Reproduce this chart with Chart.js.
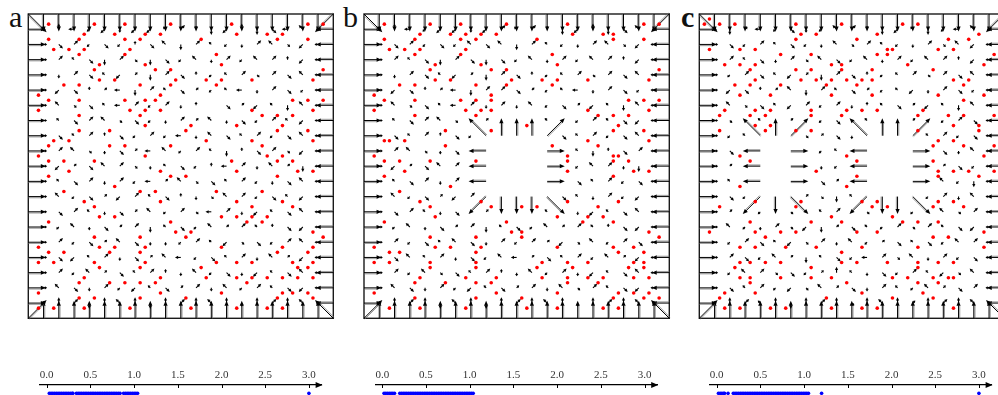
<!DOCTYPE html>
<html><head><meta charset="utf-8">
<script src="https://cdn.jsdelivr.net/npm/chart.js@4/dist/chart.umd.min.js"></script>
<style>
html,body{margin:0;padding:0;background:#fff;width:998px;height:395px;overflow:hidden;position:relative}
canvas{position:absolute;display:block}
.lbl{position:absolute;font-family:"Liberation Serif","Times New Roman",serif;font-size:30px;line-height:30px;color:#111}
</style></head><body>
<div class="lbl" style="left:9px;top:2px">a</div>
<div class="lbl" style="left:343px;top:2px">b</div>
<div class="lbl" style="left:681px;top:2px;font-weight:bold">c</div>
<canvas id="pa" width="326" height="325" style="left:18px;top:4px"></canvas>
<canvas id="pb" width="326" height="325" style="left:354px;top:4px"></canvas>
<canvas id="pc" width="326" height="325" style="left:689px;top:4px"></canvas>
<canvas id="na" width="310" height="40" style="left:30px;top:355px"></canvas>
<canvas id="nb" width="310" height="40" style="left:365px;top:355px"></canvas>
<canvas id="nc" width="298" height="40" style="left:700px;top:355px"></canvas>
<script>
// ---------- DATA (fine lattice units: 0..60, arrow nodes every 3 units) ----------
const dotsA = [
[2,[4,13,19,28,40,55,58]],[4,[11,17,23,26,41,47,50]],[5,[4,10,19,22,34,49,55]],[7,[5,8,11,20]],
[8,[10,19,37]],[10,[14,23,38]],[11,[13,25,28,58]],[13,[14,17,29,35,38,44,56]],[14,[7,10,22,28,37]],
[16,[2,26]],[17,[4,10,19,23,25,52,55,58]],[19,[2,20,23,26,44,56]],[20,[10,22,46,49,52]],
[22,[23,32,41,50]],[23,[10,16,31,49,55]],[25,[5,8,35,44,56]],[26,[4,16,19,28,46]],[28,[2,23,47,50]],
[29,[4,7,13,40,49,52]],[31,[8,26,41,53,56]],[32,[4,28,31,49]],[34,[17]],[35,[7,22,25,37,46]],
[37,[11,26,41,50]],[38,[13,44,52]],[40,[14,17,38,41,44,47]],[41,[4,28,43,46]],[43,[29,32,56]],
[44,[13,22,31,58]],[46,[2,14,17,23,38,50,56]],[47,[4,7,16,22,49,55]],[49,[2,5,13,23,37,41,44,52,56]],
[50,[14,22,34,53,55]],[52,[11,26,35,41,44,47,50,53,56]],[53,[10,16,19,22,25,43]],[55,[2,26,38,50,52,55]],
[56,[10,13,22,31,49,56]],[58,[2,5,11,20,32,41,47,50]]
];
const dotsB = [
[2,[4,13,19,28,40,55,58]],[4,[11,17,20,23,26,41,47,49]],[5,[4,10,19,22,34,49,55]],[7,[5,8,11,20]],
[8,[10,19,37]],[10,[14,23,38]],[11,[13,25,28,58]],[13,[14,17,29,35,38,44,56]],[14,[7,10,22,28,37]],
[16,[2,25]],[17,[4,10,19,22,25,52,55,58]],[19,[2,20,23,25,44,56]],[20,[10,22,46,49,52]],
[22,[32,50]],[23,[16,25,49,55]],[25,[4,5,8,44,56]],[26,[16,37,46]],[28,[2,40,49,50]],
[29,[4,7,13,22,40,49,52]],[31,[8,40,53,56]],[32,[4,49]],[34,[17]],[35,[7]],[37,[11,23,40,50]],
[38,[13,25,31,34,46]],[40,[14,38,44,47]],[41,[4,28,43,49]],[43,[29,31,56]],[44,[13,22,31,58]],
[46,[2,14,17,23,38,49,53]],[47,[5,7,22,50,55]],[49,[2,5,13,22,35,40,44,53,55]],[50,[13,22,34,41,52,55]],
[52,[11,20,26,35,40,44,47,53,56]],[53,[10,16,22,25,40,46]],[55,[2,26,38,50,53,56]],
[56,[10,22,31,49,55,58]],[58,[5,11,20,32,38,47,50]]
];
const dotsC = [
[1,[2]],[2,[1,4,7,19,28,40,43]],[4,[20,23,35,55]],[5,[19,31,49,53]],[7,[2,8,11,37,38,47,50]],
[8,[16,22,35,37,58]],[10,[5,8,11,26,28,41,56]],[11,[10,19,22,28,34,46]],[13,[11,20,23,26,29,32,34,50,53]],
[14,[7,10,16,25,31,52]],[16,[8,14,26,34,47,56]],[17,[52]],[19,[5,11,14,22,29,32,35,44]],
[20,[4,10,13,22,28,43,49,52,58]],[22,[11,14,50,55]],[23,[4,13,19,22,43,55]],[25,[47,50]],[26,[46,52,58]],
[28,[8,29,56]],[29,[10,31,46]],[31,[23,47,50,53,58]],[32,[31,47,55]],[34,[8,29]],[37,[11,20,32,35,47,50]],
[38,[4,19,34,37,46,52]],[40,[26,38]],[41,[10,22,28,40,43,47]],[43,[2,11,16,19,31,35,56]],[44,[13,46,49]],
[46,[8,11,17,23,32,43,56]],[47,[28]],[49,[8,10,13,16,28,31,37,43,47,50]],[50,[7,22,43]],
[52,[8,10,16,22,26,38,41,46,49,50]],[53,[10,29,43,47]],[55,[5,11,32,44]],[56,[4,25,38,46]],
[58,[5,8,14,17,26,32,35,50]]
];
// interior arrow directions, rows j=1..19, cols i=1..19
// upper case = normal, lower case = short; R/L/U/D, A=NE, B=NW, C=SW, E=SE; '.' none; ' ' obstacle
const fieldA = [
".ULcCdCCbAuDCUDELB.","rEAcEcuEBDAbcdABeCl","rAbEDAeDEcBdAcBAuCl","rdAEbCaDAEucbAeAEBl",
"rCEuaLDAbEacbLdAEcl","rBeEbLAcAdu.EaCbDBl","rbEABeEcdAaBdEcAbCl","rEbAuEcAcLdBEbAcEBl",
"rABedEaLBcAbDuEAeCl","rCaEBAedbEcuLAdBaDl","rbEAdAcLaBeEbAcdEBl","rBcEaCAbEudeBAcEbCl",
"rEAbdEaBcAeLAdCbEBl","rcBdEaADbEcBaAbuECl","rAcEaBEddcAbCeEcABl","rECbAdEaBLcEbAdBaCl",
"rAcBaEbAudBcEdCbEBl","rBEdAcCbEaAdBcAbECl",".UADUBUDUAUBUdUAUB."
];
const fieldB = [
".ULcCCdCAbAuDCUDEB.","rEAcEcBEBDAbcdABeCl","rAbEDAEDEcBdAcBAuCl","rdAEbCaDAEucbAeAEBl",
"rCEuaLDAAEacbLdAEcl","rBeEbLAdAdBcEaCbDBl","rbEABe.a...b.cAbECl","rEbAuEc     EbAcEBl",
"rABedE.     .bDuEAl","rCaEBA.     .cBAdDl","rbEAdA.     .EbAcEl","rBcEaCA     EbdAcCl",
"rEAbdE.a...b.dCbEBl","rcBdEaADbEcBaAbuECl","rAcEbBEdAcAaCeBcAEl","rEBbAdEcBLaEbAcBaCl",
"rAcBeEbAudBcAdCbEBl","rBEdAcCbEaAdBeAbECl",".UAUDBUDUAUBUdUAUB."
];
const fieldC = [
".DaLcEdcBAuDCbDcLB.","rEcAbEcdBeAbcdAeBCl","rAbEdAeBEcBdAcBAuCl","rcAEbCaDAEucbAeAEBl",
"rCEuaBDAbEacbCdAEcl","rBeEbCAcAdubEaCbDBl","re.b.a.cE.b..a.cAEl","rcb   eaEd    bAcEl",
"rE.   .cb.    .EdBl","ra.   .dc.    .aEcl","rb.   .Ea.    .BcDl","rEc   aeDb    cAdBl",
"ra.c.e.bA.e..c.BeAl","rBcdAeCDaEbcAeAbECl","rcAEbCeAdBcaEbEcBAl","rAEcBaDbEcLAeBdAcEl",
"rcBAeEcaUbdEcAbCeBl","rEbAcCeBaEdAbcBaEAl",".UAbUDUAUeUBUaUAUB."
];
// obstacles [i0,i1,j0,j1] in node units (perimeter nodes carry outward arrows)
const holesA = [];
const holesB = [[8,12,8,12]];
const holesC = [[4,6,8,12],[11,14,8,12]];
// number lines
const tickLabels = ['0.0','0.5','1.0','1.5','2.0','2.5','3.0'];
const blueA = [0.03,0.05,0.07,0.09,0.11,0.13,0.15,0.17,0.19,0.21,0.23,0.25,0.27,0.29,0.30,0.34,0.36,0.38,0.40,0.42,0.44,0.46,0.48,0.50,0.52,0.54,0.56,0.58,0.60,0.62,0.64,0.66,0.68,0.70,0.72,0.74,0.76,0.78,0.80,0.82,0.84,0.88,0.90,0.92,0.94,0.96,0.98,1.00,1.02,1.04,3.00];
const blueB = [0.02,0.04,0.06,0.08,0.10,0.12,0.14,0.20,0.22,0.24,0.26,0.28,0.30,0.32,0.34,0.36,0.38,0.40,0.42,0.44,0.46,0.48,0.50,0.52,0.54,0.56,0.58,0.60,0.62,0.64,0.66,0.68,0.70,0.72,0.74,0.76,0.78,0.80,0.82,0.84,0.86,0.88,0.90,0.92,0.94,0.96,0.98,1.00,1.02,1.04];
const blueC = [0.02,0.04,0.06,0.08,0.09,0.13,0.19,0.21,0.23,0.25,0.27,0.29,0.31,0.33,0.35,0.37,0.39,0.41,0.43,0.45,0.47,0.49,0.51,0.53,0.55,0.57,0.59,0.61,0.63,0.65,0.67,0.69,0.71,0.73,0.75,0.77,0.79,0.81,0.83,0.85,0.87,0.89,0.91,0.93,0.95,0.97,0.99,1.01,1.03,1.05,1.20,3.00];

// ---------- build ----------
const DIRS = {R:[1,0],L:[-1,0],U:[0,-1],D:[0,1],A:[0.7071,-0.7071],B:[-0.7071,-0.7071],C:[-0.7071,0.7071],E:[0.7071,0.7071]};
const BLEN = 3.45, SLEN = 1.15, SSHORT = 0.7;
function toPoints(rows){const p=[];rows.forEach(([fy,xs])=>xs.forEach(fx=>p.push({x:fx,y:fy})));return p;}
function buildArrows(field, holes){
  const out=[];
  for(let k=1;k<20;k++){
    out.push({x:0,y:3*k,dx:BLEN,dy:0,big:1});
    out.push({x:60,y:3*k,dx:-BLEN,dy:0,big:1});
    out.push({x:3*k,y:0,dx:0,dy:BLEN,big:1});
    out.push({x:3*k,y:60,dx:0,dy:-BLEN,big:1});
  }
  out.push({x:0,y:0,dx:3.6,dy:3.6,big:1});
  out.push({x:60,y:0,dx:-3.6,dy:3.6,big:1});
  out.push({x:0,y:60,dx:3.6,dy:-3.6,big:1});
  out.push({x:60,y:60,dx:-3.6,dy:-3.6,big:1});
  holes.forEach(([i0,i1,j0,j1])=>{
    for(let i=i0;i<=i1;i++)for(let j=j0;j<=j1;j++){
      const sx=i===i0?-1:(i===i1?1:0), sy=j===j0?-1:(j===j1?1:0);
      if(sx===0&&sy===0)continue;
      out.push({x:3*i,y:3*j,dx:sx*BLEN,dy:sy*BLEN,big:1});
    }
  });
  field.forEach((row,r)=>{
    for(let c=0;c<row.length;c++){
      const ch=row[c]; if(ch==='.'||ch===' ')continue;
      const d=DIRS[ch.toUpperCase()]; if(!d)continue;
      const len = ch===ch.toUpperCase()?SLEN:SSHORT;
      out.push({x:3*(c+1),y:3*(r+1),dx:d[0]*len,dy:d[1]*len,big:0});
    }
  });
  return out;
}
function drawArrow(ctx,x0,y0,x1,y1,big){
  const dx=x1-x0,dy=y1-y0,L=Math.hypot(dx,dy); if(L<0.8)return;
  const ux=dx/L,uy=dy/L,px=-uy,py=ux;
  const hl=big?5:Math.min(3.2,L*0.62), hw=big?2.1:1.6;
  const bx=x1-ux*hl, by=y1-uy*hl;
  if(big){
    ctx.strokeStyle='rgba(110,110,110,0.7)';ctx.lineWidth=1;
    ctx.beginPath();ctx.moveTo(x0+px*1.2,y0+py*1.2);ctx.lineTo(bx+px*1.2,by+py*1.2);ctx.stroke();
  }
  ctx.strokeStyle='#000';ctx.lineWidth=big?1:1.1;
  ctx.beginPath();ctx.moveTo(x0,y0);ctx.lineTo(bx+ux*0.6,by+uy*0.6);ctx.stroke();
  ctx.fillStyle='#000';
  ctx.beginPath();ctx.moveTo(x1,y1);ctx.lineTo(bx+px*hw,by+py*hw);ctx.lineTo(bx-px*hw,by-py*hw);ctx.closePath();ctx.fill();
}
const quiverPlugin={
  id:'quiver',
  beforeDatasetsDraw(chart){
    const o=chart.options.plugins.quiver; if(!o)return;
    const xs=chart.scales.x, ys=chart.scales.y, ctx=chart.ctx;
    ctx.save();
    const L=xs.getPixelForValue(0),R=xs.getPixelForValue(60),T=ys.getPixelForValue(0),B=ys.getPixelForValue(60);
    ctx.strokeStyle='#1a1a1a';ctx.lineWidth=1.4;ctx.strokeRect(L,T,R-L,B-T);
    o.list.forEach(a=>{
      drawArrow(ctx,xs.getPixelForValue(a.x),ys.getPixelForValue(a.y),xs.getPixelForValue(a.x+a.dx),ys.getPixelForValue(a.y+a.dy),a.big);
    });
    ctx.restore();
  }
};
function panel(id,dots,field,holes,pad){
  new Chart(document.getElementById(id),{
    type:'scatter',
    data:{datasets:[{data:toPoints(dots),pointRadius:1.8,pointBackgroundColor:'#ff0000',backgroundColor:'#ff0000',pointBorderWidth:0,borderWidth:0,clip:false}]},
    options:{responsive:false,animation:false,events:[],
      layout:{padding:pad,autoPadding:false},
      scales:{x:{type:'linear',min:0,max:60,display:false},y:{type:'linear',min:0,max:60,reverse:true,display:false}},
      plugins:{legend:{display:false},tooltip:{enabled:false},quiver:{list:buildArrows(field,holes)}}},
    plugins:[quiverPlugin]
  });
}
panel('pa',dotsA,fieldA,holesA,{left:10.3,top:10,right:10.7,bottom:10.7});
panel('pb',dotsB,fieldB,holesB,{left:10,top:10,right:10.7,bottom:10.7});
panel('pc',dotsC,fieldC,holesC,{left:10.3,top:10,right:10.7,bottom:10.7});

const axisDeco={
  id:'axisDeco',
  afterDraw(chart){
    const ctx=chart.ctx,a=chart.chartArea,xs=chart.scales.x;ctx.save();
    ctx.strokeStyle='#000';ctx.lineWidth=1;
    xs.ticks.forEach(t=>{const x=Math.round(xs.getPixelForValue(t.value))+0.5;ctx.beginPath();ctx.moveTo(x,a.top);ctx.lineTo(x,a.top+3);ctx.stroke();});
    ctx.fillStyle='#000';
    ctx.beginPath();ctx.moveTo(a.right+1,a.top);ctx.lineTo(a.right-6,a.top-3);ctx.lineTo(a.right-6,a.top+3);ctx.closePath();ctx.fill();
    ctx.restore();
  }
};
const DOT_Y=0.17;
function numberLine(id,values,pad){
  new Chart(document.getElementById(id),{
    type:'scatter',
    data:{datasets:[{data:values.map(v=>({x:v,y:DOT_Y})),pointRadius:1.8,pointBackgroundColor:'#0000ff',backgroundColor:'#0000ff',pointBorderWidth:0,borderWidth:0,clip:false}]},
    options:{responsive:false,animation:false,events:[],
      layout:{padding:pad,autoPadding:false},
      scales:{
        x:{type:'linear',position:'top',min:-0.08,max:3.145,
          afterBuildTicks(s){s.ticks=tickLabels.map(t=>({value:parseFloat(t)}));},
          afterFit(s){s.height=20;},
          ticks:{callback:(v,i)=>tickLabels[i],font:{family:'Liberation Serif',size:11},color:'#333',padding:3,maxRotation:0,autoSkip:false},
          grid:{display:false,drawTicks:false},
          border:{display:true,color:'#000',width:1.2}},
        y:{display:false,min:0,max:1}
      },
      plugins:{legend:{display:false},tooltip:{enabled:false}}},
    plugins:[axisDeco]
  });
}
numberLine('na',blueA,{left:9.7,right:18.4,top:10,bottom:0});
numberLine('nb',blueB,{left:10.3,right:17.8,top:10,bottom:0});
numberLine('nc',blueC,{left:9.7,right:6.4,top:10,bottom:0});
</script>
</body></html>
